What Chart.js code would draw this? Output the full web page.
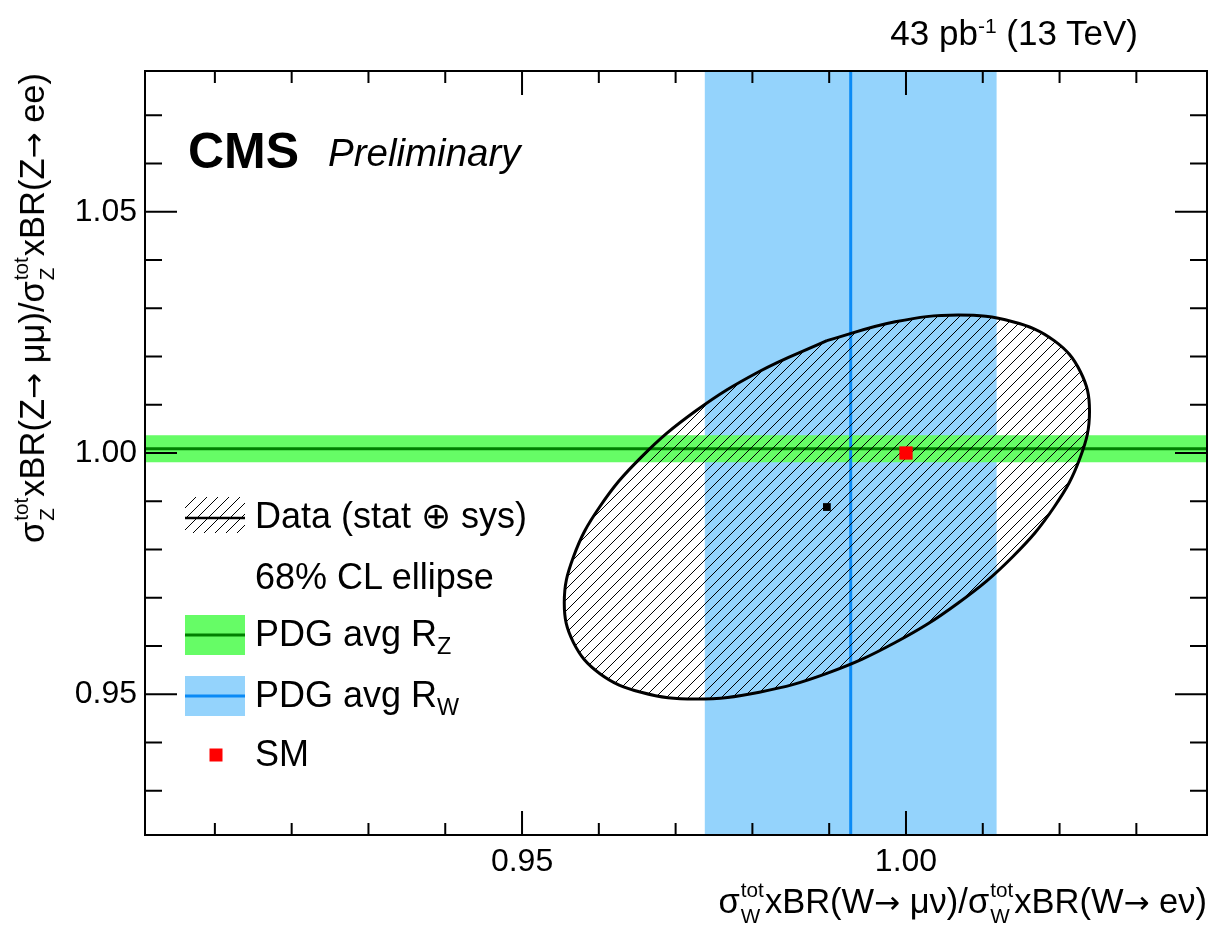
<!DOCTYPE html>
<html>
<head>
<meta charset="utf-8">
<title>W and Z lepton universality ratios</title>
<script src="https://cdn.jsdelivr.net/npm/chart.js@4.4.1/dist/chart.umd.min.js"></script>
<style>
  html, body { margin: 0; padding: 0; background: #fff; }
  #wrap { position: relative; width: 1211px; height: 935px; overflow: hidden;
          font-family: "Liberation Sans", Arial, Helvetica, sans-serif; color: #000; }
  #plot { position: absolute; left: 0; top: 0; }
  .txt { position: absolute; white-space: nowrap; line-height: 1; }
  .sub { position: relative; top: 0.35em; font-size: 0.65em; }
  .sup { position: relative; top: -0.55em; font-size: 0.6em; }
  .st { display: inline-block; position: relative; font-size: 0.6em; line-height: 1; margin: 0 1px; }
  .st .up { position: relative; top: -0.75em; }
  .st .dn { position: absolute; left: 0; top: 0.5em; }
  .arr { font-family: "DejaVu Sans", sans-serif; font-size: 0.9em; }
  .title { font-size: 34.5px; }
  .legend { font-size: 36px; left: 255px; }
  #cms { left: 188px; top: 126px; font-size: 50px; font-weight: bold; }
  #prelim { left: 328px; top: 134px; font-size: 38.5px; font-style: italic; }
  #lumi { right: 73px; top: 15px; font-size: 35px; }
  #xTitle { right: 4px; top: 884px; }
  #yTitle { left: 15px; top: 73px; transform-origin: 0 0; transform: rotate(-90deg) translateX(-100%); }
</style>
</head>
<body>
<div id="wrap">
  <canvas id="plot" width="1211" height="935"></canvas>

  <div class="txt" id="lumi">43 pb<span class="sup">-1</span> (13 TeV)</div>
  <div class="txt" id="cms">CMS</div>
  <div class="txt" id="prelim">Preliminary</div>

  <div class="txt title" id="xTitle">σ<span class="st"><span class="up">tot</span><span class="dn">W</span></span>xBR(W<span class="arr">→</span> μν)/σ<span class="st"><span class="up">tot</span><span class="dn">W</span></span>xBR(W<span class="arr">→</span> eν)</div>
  <div class="txt title" id="yTitle">σ<span class="st"><span class="up">tot</span><span class="dn">Z</span></span>xBR(Z<span class="arr">→</span> μμ)/σ<span class="st"><span class="up">tot</span><span class="dn">Z</span></span>xBR(Z<span class="arr">→</span> ee)</div>

  <div class="txt legend" style="top:498px">Data (stat ⊕ sys)</div>
  <div class="txt legend" style="top:559px">68% CL ellipse</div>
  <div class="txt legend" style="top:616px">PDG avg R<span class="sub">Z</span></div>
  <div class="txt legend" style="top:677px">PDG avg R<span class="sub">W</span></div>
  <div class="txt legend" style="top:736px">SM</div>
</div>

<script>
// axis ranges
const xRange = [0.9009, 1.0392];
const yRange = [0.9208, 1.0792];

// labelled (major) ticks, minor ticks every 0.01
const xTickLabels = ['0.95', '1.00'];
const yTickLabels = ['0.95', '1.00', '1.05'];

// 68% CL contour of the measurement
const ellipseX = [0.9897, 0.9809, 0.9726, 0.9655, 0.9601, 0.9567, 0.9555, 0.9567,
                  0.9601, 0.9655, 0.9726, 0.9809, 0.9897, 0.9986, 1.0068, 1.0139,
                  1.0193, 1.0227, 1.0239, 1.0227, 1.0193, 1.0139, 1.0068, 0.9986, 0.9897];
const ellipseY = [1.0233, 1.0169, 1.0087, 0.9991, 0.9888, 0.9785, 0.9689, 0.9607,
                  0.9543, 0.9504, 0.9490, 0.9504, 0.9543, 0.9607, 0.9689, 0.9785,
                  0.9888, 0.9991, 1.0087, 1.0169, 1.0233, 1.0272, 1.0286, 1.0272, 1.0233];

// measured central value (R_W, R_Z)
const dataPoint = [0.9897, 0.9888];
// standard model expectation
const smPoint = [1.0, 1.0];
// PDG averages: [central, uncertainty]
const pdgRW = [0.9928, 0.019];
const pdgRZ = [1.0009, 0.0028];

const FONT = '"Liberation Sans", Arial, Helvetica, sans-serif';
const bandGreen = '#66fc66';
const lineGreen = '#007f00';
const bandBlue = '#94d3fc';
const lineBlue = '#0a8af5';

// diagonal hatching used for the ellipse and its legend entry
function makeHatch(step) {
    const c = document.createElement('canvas');
    c.width = step; c.height = step;
    const g = c.getContext('2d');
    g.strokeStyle = '#000';
    g.lineWidth = 1;
    g.beginPath();
    g.moveTo(0, step); g.lineTo(step, 0);
    g.moveTo(-1, 1); g.lineTo(1, -1);
    g.moveTo(step - 1, step + 1); g.lineTo(step + 1, step - 1);
    g.stroke();
    return g.createPattern(c, 'repeat');
}
const hatch = makeHatch(11);

function pickLabel(value, labels) {
    const s = Number(value).toFixed(2);
    return labels.includes(s) ? s : '';
}

const ellipsePts = ellipseX.map((x, i) => ({x: x, y: ellipseY[i]}));

const blueBand = [
    {x: pdgRW[0] - pdgRW[1], y: yRange[0]},
    {x: pdgRW[0] - pdgRW[1], y: yRange[1]},
    {x: pdgRW[0] + pdgRW[1], y: yRange[1]},
    {x: pdgRW[0] + pdgRW[1], y: yRange[0]},
    {x: pdgRW[0] - pdgRW[1], y: yRange[0]}
];
const greenBand = [
    {x: xRange[0], y: pdgRZ[0] - pdgRZ[1]},
    {x: xRange[1], y: pdgRZ[0] - pdgRZ[1]},
    {x: xRange[1], y: pdgRZ[0] + pdgRZ[1]},
    {x: xRange[0], y: pdgRZ[0] + pdgRZ[1]},
    {x: xRange[0], y: pdgRZ[0] - pdgRZ[1]}
];

// frame with inward ticks on all four sides, plus legend symbols
const frameAndLegend = {
    id: 'frameAndLegend',
    afterDatasetsDraw(chart) {
        const {ctx, chartArea: a, scales: {x, y}} = chart;
        ctx.save();
        ctx.strokeStyle = '#000';
        ctx.lineWidth = 2;
        ctx.strokeRect(a.left, a.top, a.right - a.left, a.bottom - a.top);
        ctx.beginPath();
        x.ticks.forEach(t => {
            const px = x.getPixelForValue(t.value);
            const len = t.label ? 24 : 12;
            ctx.moveTo(px, a.bottom); ctx.lineTo(px, a.bottom - len);
            ctx.moveTo(px, a.top); ctx.lineTo(px, a.top + len);
        });
        y.ticks.forEach(t => {
            const py = y.getPixelForValue(t.value);
            const len = t.label ? 32 : 17;
            ctx.moveTo(a.left, py); ctx.lineTo(a.left + len, py);
            ctx.moveTo(a.right, py); ctx.lineTo(a.right - len, py);
        });
        ctx.stroke();

        // legend: data
        ctx.fillStyle = hatch;
        ctx.fillRect(185, 497, 60, 36);
        ctx.lineWidth = 2.5;
        ctx.beginPath(); ctx.moveTo(185, 518); ctx.lineTo(245, 518); ctx.stroke();
        // legend: PDG R_Z
        ctx.fillStyle = bandGreen;
        ctx.fillRect(185, 615, 60, 40);
        ctx.strokeStyle = lineGreen; ctx.lineWidth = 3;
        ctx.beginPath(); ctx.moveTo(185, 635); ctx.lineTo(245, 635); ctx.stroke();
        // legend: PDG R_W
        ctx.fillStyle = bandBlue;
        ctx.fillRect(185, 676, 60, 40);
        ctx.strokeStyle = lineBlue;
        ctx.beginPath(); ctx.moveTo(185, 696); ctx.lineTo(245, 696); ctx.stroke();
        // legend: SM
        ctx.fillStyle = '#ff0000';
        ctx.fillRect(209.5, 748.5, 13, 13);
        ctx.restore();
    }
};

new Chart(document.getElementById('plot').getContext('2d'), {
    type: 'scatter',
    data: {
        datasets: [{
            label: 'SM',
            data: [{x: smPoint[0], y: smPoint[1]}],
            pointStyle: 'rect',
            pointRadius: 9.4,
            backgroundColor: '#ff0000',
            borderColor: '#ff0000',
            borderWidth: 0,
            order: 0
        }, {
            label: 'Data',
            data: [{x: dataPoint[0], y: dataPoint[1]}],
            pointStyle: 'rect',
            pointRadius: 5.5,
            backgroundColor: '#000',
            borderColor: '#000',
            borderWidth: 0,
            order: 1
        }, {
            label: '68% CL ellipse',
            data: ellipsePts,
            showLine: true,
            tension: 0.4,
            pointRadius: 0,
            borderColor: '#000',
            borderWidth: 3,
            backgroundColor: hatch,
            fill: 'shape',
            order: 2
        }, {
            label: 'PDG avg R_Z',
            data: [{x: xRange[0], y: pdgRZ[0]}, {x: xRange[1], y: pdgRZ[0]}],
            showLine: true,
            pointRadius: 0,
            borderColor: lineGreen,
            borderWidth: 3,
            order: 3
        }, {
            label: 'PDG avg R_W',
            data: [{x: pdgRW[0], y: yRange[0]}, {x: pdgRW[0], y: yRange[1]}],
            showLine: true,
            pointRadius: 0,
            borderColor: lineBlue,
            borderWidth: 3,
            order: 4
        }, {
            label: 'R_Z band',
            data: greenBand,
            showLine: true,
            pointRadius: 0,
            borderWidth: 0,
            backgroundColor: bandGreen,
            fill: 'shape',
            order: 5
        }, {
            label: 'R_W band',
            data: blueBand,
            showLine: true,
            pointRadius: 0,
            borderWidth: 0,
            backgroundColor: bandBlue,
            fill: 'shape',
            order: 6
        }]
    },
    options: {
        responsive: false,
        animation: false,
        events: [],
        layout: { autoPadding: false, padding: { top: 71, right: 4, left: 0, bottom: 0 } },
        plugins: {
            legend: { display: false },
            tooltip: { enabled: false }
        },
        scales: {
            x: {
                type: 'linear',
                min: xRange[0],
                max: xRange[1],
                afterFit: s => { s.height = 100; s.paddingLeft = 0; s.paddingRight = 0; },
                grid: { display: false, drawTicks: false },
                border: { display: false },
                ticks: {
                    stepSize: 0.01,
                    includeBounds: false,
                    autoSkip: false,
                    maxRotation: 0,
                    padding: 8,
                    color: '#000',
                    font: { family: FONT, size: 32 },
                    callback: v => pickLabel(v, xTickLabels)
                }
            },
            y: {
                type: 'linear',
                min: yRange[0],
                max: yRange[1],
                afterFit: s => { s.width = 145; s.paddingTop = 0; s.paddingBottom = 0; },
                grid: { display: false, drawTicks: false },
                border: { display: false },
                ticks: {
                    stepSize: 0.01,
                    includeBounds: false,
                    autoSkip: false,
                    padding: 8,
                    color: '#000',
                    font: { family: FONT, size: 32 },
                    callback: v => pickLabel(v, yTickLabels)
                }
            }
        }
    },
    plugins: [frameAndLegend]
});
</script>
</body>
</html>
